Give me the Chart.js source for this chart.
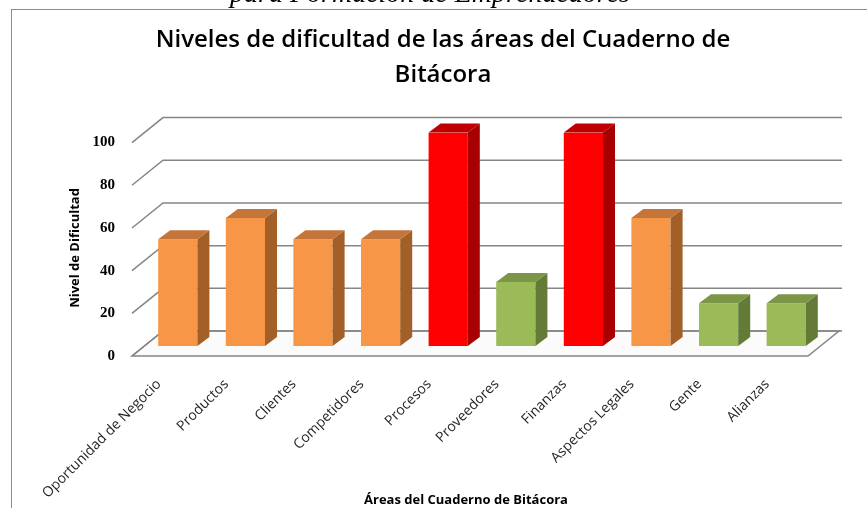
<!DOCTYPE html>
<html>
<head>
<meta charset="utf-8">
<script src="https://cdn.jsdelivr.net/npm/chart.js"></script>
<style>
    html, body { margin: 0; padding: 0; background: #fff; }
    #wrap { width: 867px; height: 508px; }
</style>
</head>
<body>
<div id="wrap"><canvas id="myChart" width="867" height="508"></canvas></div>
<script>
// datos del grafico
var areas = ["Oportunidad de Negocio", "Productos", "Clientes", "Competidores", "Procesos",
    "Proveedores", "Finanzas", "Aspectos Legales", "Gente", "Alianzas"];
var nivel = [50, 60, 50, 50, 100, 30, 100, 60, 20, 20];
var yTicks = [0, 20, 40, 60, 80, 100];

var tituloLineas = ["Niveles de dificultad de las áreas del Cuaderno de", "Bitácora"];
var tituloY = "Nivel de Dificultad";
var tituloX = "Áreas del Cuaderno de Bitácora";
var leyendaSup = "para Formación de Emprendedores";

// colores: rojo = alto, naranja = medio, verde = bajo
var caraFrente = ["#FF0000", "#F79646", "#9BBB59"];
var caraLado = ["#A80000", "#A35F28", "#637B36"];
var caraTecho = ["#C00000", "#C4753A", "#7B9646"];
function nivelIdx(v) {
    if (v >= 80) return 0;
    if (v >= 40) return 1;
    return 2;
}

// desplazamientos del efecto 3D (px)
var FRENTE = { dx: -12, dy: 10 };
var FONDO = { dx: 19, dy: -15 };
var PROF = { dx: 12, dy: -9 };

var cubo = {
    id: 'cubo',
    beforeDraw: function (chart) {
        var ctx = chart.ctx;
        ctx.save();
        // marco del grafico
        ctx.strokeStyle = "#8c8c8c";
        ctx.lineWidth = 1;
        ctx.strokeRect(11.5, 9.5, 900, 600);
        // texto cortado de arriba
        ctx.fillStyle = "#000";
        ctx.font = "italic 28px 'Liberation Serif'";
        ctx.textAlign = "center";
        ctx.textBaseline = "alphabetic";
        ctx.fillText(leyendaSup, 430, 2);
        // titulos de ejes
        ctx.font = "bold 13px 'Open Sans'";
        ctx.fillStyle = "#000";
        ctx.fillText(tituloX, 466, 504);
        ctx.translate(79, 248);
        ctx.rotate(-Math.PI / 2);
        ctx.fillText(tituloY, 0, 0);
        ctx.restore();
    },
    beforeDatasetsDraw: function (chart) {
        var ctx = chart.ctx;
        var a = chart.chartArea;
        var ys = chart.scales.y;
        ctx.save();
        var y0 = ys.getPixelForValue(0);
        // piso
        ctx.beginPath();
        ctx.moveTo(a.left + FRENTE.dx, y0 + FRENTE.dy);
        ctx.lineTo(a.right + FRENTE.dx, y0 + FRENTE.dy);
        ctx.lineTo(a.right + FONDO.dx, y0 + FONDO.dy);
        ctx.lineTo(a.left + FONDO.dx, y0 + FONDO.dy);
        ctx.closePath();
        ctx.fillStyle = "#fbfbfb";
        ctx.fill();
        ctx.strokeStyle = "#858585";
        ctx.lineWidth = 1.5;
        ctx.stroke();
        // lineas de la pared
        yTicks.forEach(function (v) {
            var y = ys.getPixelForValue(v);
            ctx.beginPath();
            ctx.moveTo(a.left + FRENTE.dx, y + FRENTE.dy);
            ctx.lineTo(a.left + FONDO.dx, y + FONDO.dy);
            ctx.lineTo(a.right + FONDO.dx + 3, y + FONDO.dy);
            ctx.stroke();
        });
        ctx.restore();
    },
    afterDatasetsDraw: function (chart) {
        var ctx = chart.ctx;
        var meta = chart.getDatasetMeta(0);
        ctx.save();
        meta.data.forEach(function (bar, i) {
            var k = nivelIdx(nivel[i]);
            var p = bar.getProps(['x', 'y', 'base', 'width'], true);
            var L = p.x - p.width / 2, R = p.x + p.width / 2;
            // lado
            ctx.beginPath();
            ctx.moveTo(R, p.y);
            ctx.lineTo(R + PROF.dx, p.y + PROF.dy);
            ctx.lineTo(R + PROF.dx, p.base + PROF.dy);
            ctx.lineTo(R, p.base);
            ctx.closePath();
            ctx.fillStyle = caraLado[k];
            ctx.fill();
            // techo
            ctx.beginPath();
            ctx.moveTo(L, p.y);
            ctx.lineTo(L + PROF.dx, p.y + PROF.dy);
            ctx.lineTo(R + PROF.dx, p.y + PROF.dy);
            ctx.lineTo(R, p.y);
            ctx.closePath();
            ctx.fillStyle = caraTecho[k];
            ctx.fill();
        });
        ctx.restore();
    }
};

var ctx = document.getElementById("myChart").getContext('2d');
var chart = new Chart(ctx, {
    type: 'bar',
    data: {
        labels: areas,
        datasets: [{
            data: nivel,
            backgroundColor: nivel.map(function (v) { return caraFrente[nivelIdx(v)]; }),
            borderWidth: 0,
            barPercentage: 0.58,
            categoryPercentage: 1
        }]
    },
    options: {
        responsive: false,
        animation: false,
        layout: { padding: { left: 66, right: 47, top: 13, bottom: 0 } },
        plugins: {
            legend: { display: false },
            tooltip: { enabled: false },
            title: {
                display: true,
                text: tituloLineas,
                color: "#000",
                font: { family: "'Open Sans'", size: 24, weight: '600', lineHeight: 1.45 },
                padding: { top: 10, bottom: 40 }
            }
        },
        scales: {
            x: {
                grid: { display: false, drawTicks: false },
                border: { display: false },
                ticks: {
                    autoSkip: false,
                    minRotation: 45,
                    maxRotation: 45,
                    labelOffset: -19,
                    padding: 30,
                    color: "#262626",
                    font: { family: "'Open Sans'", size: 14 }
                },
                afterFit: function (scale) { scale.height = 162; }
            },
            y: {
                min: 0,
                max: 100,
                grid: { display: false, drawTicks: false },
                border: { display: false },
                afterBuildTicks: function (scale) {
                    scale.ticks = yTicks.map(function (v) { return { value: v }; });
                },
                ticks: {
                    padding: 29,
                    labelOffset: 10,
                    color: "#000",
                    font: { family: "'Liberation Serif'", size: 15, weight: 'bold' }
                },
                afterFit: function (scale) { scale.width = 78; }
            }
        }
    },
    plugins: [cubo]
});
</script>
</body>
</html>
